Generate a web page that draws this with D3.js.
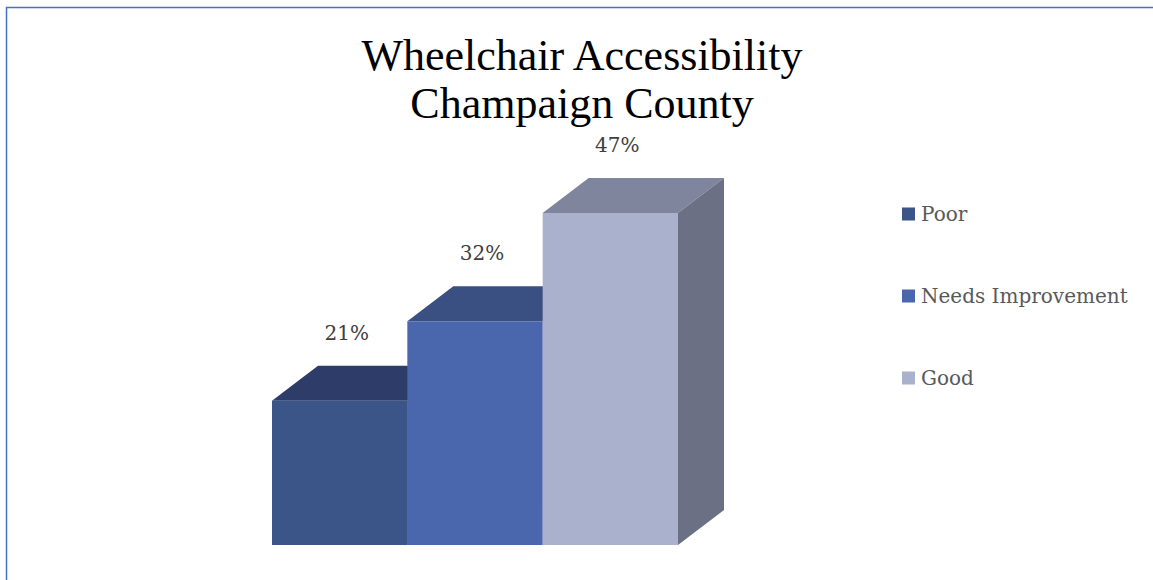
<!DOCTYPE html>
<html lang="en">
<head>
    <meta charset="UTF-8">
    <title>Wheelchair Accessibility</title>
    <script src="https://cdn.jsdelivr.net/npm/d3@7"></script>
    <style>
        body { margin: 0; background: #fff; }
        svg { display: block; }
        .title { font-family: 'Liberation Serif', serif; font-size: 44px; fill: #000; }
        .label { font-family: 'DejaVu Serif', serif; font-size: 20px; fill: #404040; }
        .legend text { font-family: 'DejaVu Serif', serif; font-size: 20px; fill: #595959; }
    </style>
</head>
<body>
<svg width="1153" height="580"></svg>
<script>
    var categories = ['Poor', 'Needs Improvement', 'Good'];
    var values = [21, 32, 47];
    var labels = ['21%', '32%', '47%'];
    var frontColors = ['#3c5589', '#4a67ad', '#aab1cd'];
    var topColors = ['#2d3c69', '#3a4f82', '#80859e'];
    var sideColors = ['#2a3860', '#34497a', '#6b7085'];

    var svg = d3.select('svg');

    // frame
    svg.append('rect')
        .attr('x', 6.5).attr('y', 7.5)
        .attr('width', 1160).attr('height', 600)
        .attr('fill', 'none')
        .attr('stroke', '#4472c4')
        .attr('stroke-width', 1.5);

    // title
    var title = svg.append('text').attr('class', 'title').attr('text-anchor', 'middle');
    title.append('tspan').attr('x', 582).attr('y', 70).text('Wheelchair Accessibility');
    title.append('tspan').attr('x', 582).attr('y', 118).text('Champaign County');

    var x = d3.scaleBand().domain(categories).range([272, 678]).padding(0);
    var y = d3.scaleLinear().domain([1, 47]).range([545, 213]);
    var dx = 46, dy = -35;
    var base = y(1);

    var bars = svg.selectAll('g.bar')
        .data(values)
        .enter()
        .append('g')
        .attr('class', 'bar');

    bars.each(function (v, i) {
        var g = d3.select(this);
        var x0 = x(categories[i]), x1 = x0 + x.bandwidth();
        var yt = y(v);
        // top face
        g.append('path')
            .attr('d', 'M' + x0 + ',' + yt + 'L' + (x0 + dx) + ',' + (yt + dy) +
                'L' + (x1 + dx) + ',' + (yt + dy) + 'L' + x1 + ',' + yt + 'Z')
            .attr('fill', topColors[i]);
        // side face
        g.append('path')
            .attr('d', 'M' + x1 + ',' + yt + 'L' + (x1 + dx) + ',' + (yt + dy) +
                'L' + (x1 + dx) + ',' + (base + dy) + 'L' + x1 + ',' + base + 'Z')
            .attr('fill', sideColors[i]);
        // front face
        g.append('rect')
            .attr('x', x0).attr('y', yt)
            .attr('width', x.bandwidth()).attr('height', base - yt)
            .attr('fill', frontColors[i]);
    });

    svg.selectAll('text.label')
        .data(values)
        .enter()
        .append('text')
        .attr('class', 'label')
        .attr('text-anchor', 'middle')
        .attr('x', function (d, i) { return x(categories[i]) + x.bandwidth() / 2 + 7; })
        .attr('y', function (d) { return y(d) + dy - 26; })
        .text(function (d, i) { return labels[i]; });

    // legend
    var legend = svg.append('g').attr('class', 'legend');
    var items = legend.selectAll('g')
        .data(categories)
        .enter()
        .append('g')
        .attr('transform', function (d, i) { return 'translate(902,' + (214 + i * 82) + ')'; });
    items.append('rect')
        .attr('x', 0).attr('y', -6.5)
        .attr('width', 13).attr('height', 13)
        .attr('fill', function (d, i) { return frontColors[i]; });
    items.append('text')
        .attr('x', 19).attr('y', 7)
        .text(function (d) { return d; });
</script>
</body>
</html>
